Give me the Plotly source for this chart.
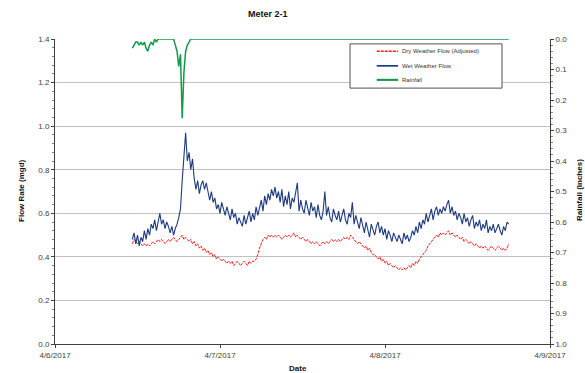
import pandas as pd
import plotly.graph_objects as go

# ---- data (15-minute readings starting 4/6/2017 11:15) ----
start_time = "2017-04-06 11:15"
interval = "15min"

series_names = ["Dry Weather Flow (Adjusted)", "Wet Weather Flow", "Rainfall"]

wet_flow = [
    0.48, 0.51, 0.46, 0.50, 0.45, 0.49, 0.47, 0.52, 0.48, 0.53,
    0.50, 0.55, 0.53, 0.57, 0.52, 0.56, 0.60, 0.55, 0.57, 0.53,
    0.56, 0.54, 0.51, 0.54, 0.50, 0.53, 0.55, 0.58, 0.62, 0.75,
    0.86, 0.97, 0.84, 0.88, 0.80, 0.85, 0.76, 0.71, 0.75, 0.69,
    0.73, 0.75, 0.71, 0.74, 0.70, 0.66, 0.70, 0.65, 0.67, 0.62,
    0.64, 0.60, 0.65, 0.62, 0.59, 0.63, 0.60, 0.57, 0.62, 0.58,
    0.60, 0.55, 0.58, 0.56, 0.54, 0.59, 0.55, 0.58, 0.61, 0.56,
    0.60, 0.57, 0.63, 0.59, 0.62, 0.66, 0.61, 0.68, 0.64, 0.69,
    0.66, 0.71, 0.68, 0.72, 0.67, 0.70, 0.65, 0.71, 0.63, 0.68,
    0.64, 0.70, 0.62, 0.67, 0.65, 0.69, 0.74, 0.61, 0.66, 0.62,
    0.60, 0.66, 0.62, 0.59, 0.65, 0.61, 0.63, 0.58, 0.64, 0.59,
    0.57, 0.61, 0.70, 0.59, 0.63, 0.58, 0.56, 0.62, 0.59, 0.57,
    0.61, 0.56, 0.59, 0.62, 0.57, 0.55, 0.60, 0.58, 0.65, 0.55,
    0.59, 0.56, 0.53, 0.58, 0.54, 0.51, 0.56, 0.53, 0.49, 0.55,
    0.52, 0.50, 0.54, 0.56, 0.51, 0.54, 0.50, 0.53, 0.48, 0.52,
    0.50, 0.47, 0.51, 0.49, 0.47, 0.50, 0.48, 0.46, 0.51, 0.48,
    0.50, 0.47, 0.49, 0.52, 0.50, 0.54, 0.51, 0.56, 0.53, 0.57,
    0.55, 0.60, 0.56, 0.59, 0.62, 0.57, 0.61, 0.63, 0.59, 0.62,
    0.60, 0.63, 0.61, 0.64, 0.66, 0.60, 0.63, 0.59, 0.61, 0.57,
    0.60, 0.58, 0.55, 0.60, 0.56, 0.58, 0.54, 0.57, 0.59, 0.53,
    0.56, 0.54, 0.57, 0.52, 0.55, 0.53, 0.57, 0.51, 0.54, 0.52,
    0.55, 0.51, 0.53, 0.55, 0.52, 0.50, 0.54, 0.52, 0.56, 0.55,
]

dry_flow = [
    0.46, 0.48, 0.47, 0.46, 0.47, 0.46, 0.45, 0.46, 0.45, 0.46, 0.45,
    0.46, 0.47, 0.46, 0.47, 0.48, 0.47, 0.48, 0.47, 0.46, 0.47,
    0.48, 0.47, 0.48, 0.49, 0.48, 0.47, 0.48, 0.49, 0.50, 0.48,
    0.49, 0.48, 0.47, 0.48, 0.46, 0.47, 0.45, 0.46, 0.44, 0.45,
    0.43, 0.44, 0.42, 0.43, 0.41, 0.42, 0.40, 0.41, 0.39, 0.40,
    0.39, 0.38, 0.39, 0.38, 0.37, 0.38, 0.37, 0.38, 0.36, 0.37,
    0.38, 0.37, 0.36, 0.37, 0.38, 0.37, 0.36, 0.38, 0.37, 0.38,
    0.38, 0.39, 0.41, 0.44, 0.46, 0.48, 0.49, 0.48, 0.50, 0.49,
    0.50, 0.49, 0.50, 0.49, 0.50, 0.49, 0.48, 0.49, 0.50, 0.49,
    0.50, 0.49, 0.50, 0.51, 0.49, 0.50, 0.49, 0.48, 0.49, 0.48,
    0.47, 0.48, 0.47, 0.46, 0.47, 0.46, 0.47, 0.46, 0.45, 0.46,
    0.47, 0.46, 0.47, 0.46, 0.47, 0.48, 0.47, 0.48, 0.47, 0.48,
    0.47, 0.48, 0.49, 0.48, 0.49, 0.48, 0.50, 0.49, 0.48, 0.47,
    0.46, 0.47, 0.46, 0.45, 0.44, 0.45, 0.43, 0.44, 0.42, 0.41,
    0.41, 0.40, 0.39, 0.40, 0.38, 0.39, 0.37, 0.38, 0.36, 0.37,
    0.36, 0.35, 0.36, 0.35, 0.34, 0.35, 0.34, 0.35, 0.34, 0.35,
    0.36, 0.35, 0.37, 0.36, 0.38, 0.37, 0.39, 0.40, 0.41, 0.42,
    0.43, 0.45, 0.46, 0.47, 0.48, 0.49, 0.50, 0.49, 0.51, 0.50,
    0.51, 0.50, 0.51, 0.52, 0.50, 0.51, 0.50, 0.49, 0.50, 0.49,
    0.48, 0.49, 0.47, 0.48, 0.47, 0.46, 0.47, 0.46, 0.45, 0.46,
    0.45, 0.44, 0.45, 0.44, 0.45, 0.44, 0.43, 0.44, 0.45, 0.44,
    0.43, 0.44, 0.45, 0.44, 0.43, 0.44, 0.43, 0.44, 0.46,
]

rain_event = [
    0.03, 0.02, 0.01, 0.01, 0.02, 0.01, 0.02, 0.01, 0.03, 0.04,
    0.02, 0.01, 0.02, 0.00, 0.01, 0.00, 0.00, 0.00, 0.00, 0.00,
    0.00, 0.00, 0.00, 0.00, 0.00, 0.02, 0.04, 0.09, 0.05, 0.26,
    0.11, 0.04, 0.02, 0.01,
]
rainfall = rain_event + [0.0] * (len(wet_flow) - len(rain_event))

x_tick_vals = ["2017-04-06", "2017-04-07", "2017-04-08", "2017-04-09"]
x_tick_text = ["4/6/2017", "4/7/2017", "4/8/2017", "4/9/2017"]

times = pd.date_range(start_time, periods=len(wet_flow), freq=interval)

# ---- styles ----
FONT = "Liberation Sans, Arial, sans-serif"
AXIS_COL = "#404040"
colors = ["#ff1a1a", "#1f3a80", "#119a4a"]
widths = [1, 1.1, 1.5]
dashes = ["3px,1px", "solid", "solid"]

fig = go.Figure()
fig.add_trace(go.Scatter(x=times, y=dry_flow, name=series_names[0], mode="lines",
                         line=dict(color=colors[0], width=widths[0], dash=dashes[0])))
fig.add_trace(go.Scatter(x=times, y=wet_flow, name=series_names[1], mode="lines",
                         line=dict(color=colors[1], width=widths[1])))
fig.add_trace(go.Scatter(x=times, y=rainfall, name=series_names[2], mode="lines", yaxis="y2",
                         line=dict(color=colors[2], width=widths[2])))

# ---- custom compact legend (paper coordinates) ----
lg_x0, lg_x1, lg_y0, lg_y1 = 0.596, 0.903, 0.839, 0.984
sample_x0, sample_x1, text_x = 0.650, 0.693, 0.697
row_y = [0.960, 0.912, 0.866]

shapes = [dict(type="rect", xref="paper", yref="paper", x0=lg_x0, x1=lg_x1, y0=lg_y0, y1=lg_y1,
               line=dict(color="#505050", width=1), fillcolor="white", layer="above")]
annotations = []
for name, c, w, d, yy in zip(series_names, colors, widths, dashes, row_y):
    shapes.append(dict(type="line", xref="paper", yref="paper", x0=sample_x0, x1=sample_x1,
                       y0=yy, y1=yy, line=dict(color=c, width=w + 0.6, dash=d), layer="above"))
    annotations.append(dict(text=name, xref="paper", yref="paper", x=text_x, y=yy,
                            xanchor="left", yanchor="middle", showarrow=False,
                            font=dict(size=6, color="#333333")))

annotations += [
    dict(text="<b>Meter 2-1</b>", xref="paper", yref="paper", x=0.43, y=1.082,
         xanchor="center", yanchor="middle", showarrow=False, font=dict(size=9, color="#111111")),
    dict(text="<b>Flow Rate (mgd)</b>", xref="paper", yref="paper", x=-0.0667, y=0.505,
         xanchor="center", yanchor="middle", textangle=-90, showarrow=False,
         font=dict(size=8, color="#111111")),
    dict(text="<b>Rainfall (inches)</b>", xref="paper", yref="paper", x=1.0606, y=0.505,
         xanchor="center", yanchor="middle", textangle=-90, showarrow=False,
         font=dict(size=8, color="#111111")),
    dict(text="<b>Date</b>", xref="paper", yref="paper", x=0.49, y=-0.060,
         xanchor="center", yanchor="top", showarrow=False, font=dict(size=8, color="#111111")),
]

fig.update_layout(
    width=585, height=373,
    margin=dict(l=55, r=35, t=39, b=29),
    paper_bgcolor="white", plot_bgcolor="white",
    font=dict(family=FONT, size=8, color=AXIS_COL),
    showlegend=False,
    xaxis=dict(
        type="date", range=["2017-04-06", "2017-04-09"],
        tickvals=x_tick_vals, ticktext=x_tick_text,
        showgrid=False, zeroline=False,
        showline=True, linecolor=AXIS_COL, linewidth=1,
        ticks="outside", ticklen=3, tickcolor=AXIS_COL,
        tickfont=dict(size=8, color=AXIS_COL),
    ),
    yaxis=dict(
        range=[0, 1.4], dtick=0.2, tickformat=".1f",
        showgrid=True, gridcolor="#c0c0c0", gridwidth=1, zeroline=False,
        showline=True, linecolor=AXIS_COL, linewidth=1,
        ticks="outside", ticklen=3, tickcolor=AXIS_COL,
        minor=dict(dtick=0.04, ticks="outside", ticklen=2, tickcolor="#808080", showgrid=False),
        tickfont=dict(size=8, color=AXIS_COL),
    ),
    yaxis2=dict(
        overlaying="y", side="right", range=[1.0, 0.0], dtick=0.1, tickformat=".1f",
        showgrid=False, zeroline=False,
        showline=True, linecolor=AXIS_COL, linewidth=1,
        ticks="outside", ticklen=3, tickcolor=AXIS_COL,
        minor=dict(dtick=0.02, ticks="outside", ticklen=2, tickcolor="#808080"),
        tickfont=dict(size=8, color=AXIS_COL),
    ),
    shapes=shapes,
    annotations=annotations,
)

fig.write_html("out.html", config={"displayModeBar": False},
               post_script="document.body.style.margin='0px';")
